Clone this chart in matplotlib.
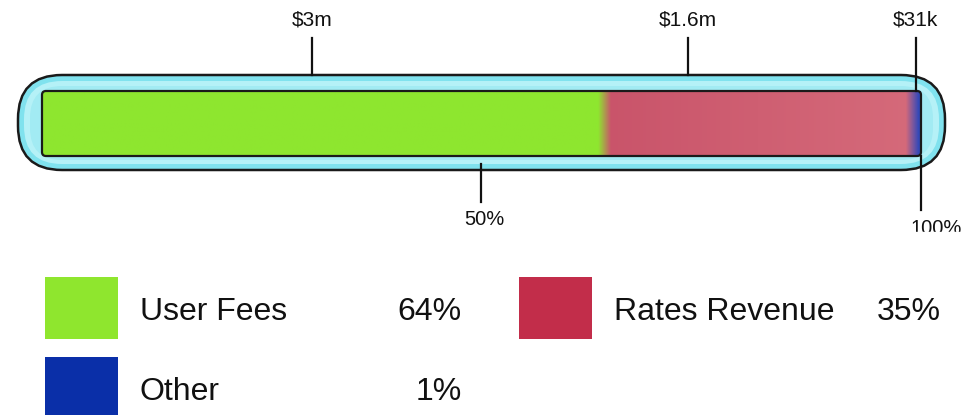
import numpy as np
import matplotlib
matplotlib.use("Agg")
import matplotlib.pyplot as plt
from matplotlib.patches import FancyBboxPatch, Rectangle
from matplotlib.colors import to_rgb

plt.rcParams['font.family'] = ['Liberation Sans', 'DejaVu Sans']

# Data
categories = ['User Fees', 'Rates Revenue', 'Other']
amounts = ['$3m', '$1.6m', '$31k']
shares = [64, 35, 1]                 # percent of total
bar_colors = ['#8ee62f', '#cc566b', '#3549b8']
legend_colors = ['#8fe62e', '#c22d4a', '#0a2fa8']
pct_ticks = [50, 100]

# Layout (pixels)
W, H = 979, 415
bar_x0, bar_x1 = 42, 921
bar_top, bar_bot = 91, 156
label_anchor = [0.48, 0.27, 0.4]   # where each leader sits inside its segment
line_end = [75, 75, 91]

fig = plt.figure(figsize=(W / 100, H / 100), dpi=100)

# background axes in pixel units: capsule + legend
bg = fig.add_axes([0, 0, 1, 1])
bg.set_xlim(0, W)
bg.set_ylim(H, 0)
bg.axis('off')

bg.add_patch(FancyBboxPatch((18, 75), 927, 95,
                            boxstyle='round,pad=0,rounding_size=44',
                            fc='#80e2ee', ec='#1a1a1a', lw=1.8))
bg.add_patch(FancyBboxPatch((24, 81), 915, 83,
                            boxstyle='round,pad=0,rounding_size=38',
                            fc='#b5f1f7', ec='none'))
bg.add_patch(FancyBboxPatch((30, 86), 903, 74,
                            boxstyle='round,pad=0,rounding_size=32',
                            fc='#a2ebf3', ec='none'))

# legend
cols = [45, 519]
pct_right = [462, 941]
rows = [277, 357]
for i, (cat, pct, col) in enumerate(zip(categories, shares, legend_colors)):
    cx = cols[i % 2]
    ry = rows[i // 2]
    bg.add_patch(Rectangle((cx, ry), 73, 62, fc=col, ec='none'))
    bg.text(cx + 95, ry + 35, cat, fontsize=23, va='center', ha='left', color='#111111')
    bg.text(pct_right[i % 2], ry + 35, f'{pct}%', fontsize=23, va='center', ha='right', color='#111111')

# data axes: x in percent, y in pixels
ax = fig.add_axes([0, 0, 1, 1])
ax.patch.set_alpha(0)
ax.axis('off')
scale = 100 / (bar_x1 - bar_x0)
ax.set_xlim(-bar_x0 * scale, (W - bar_x0) * scale)
ax.set_ylim(H, 0)

lefts = np.concatenate([[0], np.cumsum(shares)[:-1]])
bars = ax.barh((bar_top + bar_bot) / 2, shares, left=lefts, height=bar_bot - bar_top,
               color=bar_colors, edgecolor='none', zorder=2)

# soft colour blend between segments, red gets a slight left-to-right gradient
xs = np.linspace(0, 100, 900)
idx = np.clip(np.searchsorted(np.cumsum(shares), xs, side='right'), 0, len(shares) - 1)
rgb = np.array([to_rgb(bar_colors[k]) for k in idx])
red = idx == 1
t = (xs[red] - lefts[1]) / shares[1]
rgb[red] = (1 - t)[:, None] * np.array(to_rgb('#c9546a')) + t[:, None] * np.array(to_rgb('#d56a7a'))
kernel = np.ones(13) / 13
pad = np.pad(rgb, ((6, 6), (0, 0)), mode='edge')
rgb = np.stack([np.convolve(pad[:, c], kernel, mode='valid') for c in range(3)], axis=1)
img = ax.imshow(rgb[None, :, :], extent=(0, 100, bar_bot, bar_top), aspect='auto',
                interpolation='bilinear', zorder=3)
outline = FancyBboxPatch((0, bar_top), 100, bar_bot - bar_top,
                         boxstyle=f'round,pad=0,rounding_size={4 * scale}',
                         mutation_aspect=1 / scale, fc='none', ec='#1a1a1a', lw=1.6, zorder=4)
ax.add_patch(outline)
img.set_clip_path(outline)

# top leaders with amounts
for left, w, amt, a, y_end in zip(lefts, shares, amounts, label_anchor, line_end):
    x = left + a * w
    ax.plot([x, x], [38, y_end], color='#111111', lw=1.6, zorder=5)
    ax.text(x, 20, amt, fontsize=15, ha='center', va='center', color='#111111')

# bottom percent ticks
for p in pct_ticks:
    y0 = bar_bot if p == 100 else 164
    y1 = 210 if p == 100 else 202
    ax.plot([p, p], [y0, y1], color='#111111', lw=1.6, zorder=5)
    ax.text(p + 0.3 * (p == 50) + 1.7 * (p == 100), 219 if p == 50 else 228, f'{p}%',
            fontsize=14.5, ha='center', va='center', color='#111111')
ax.axhspan(232, 262, color='white', zorder=10)

fig.savefig('out.png', dpi=100)
